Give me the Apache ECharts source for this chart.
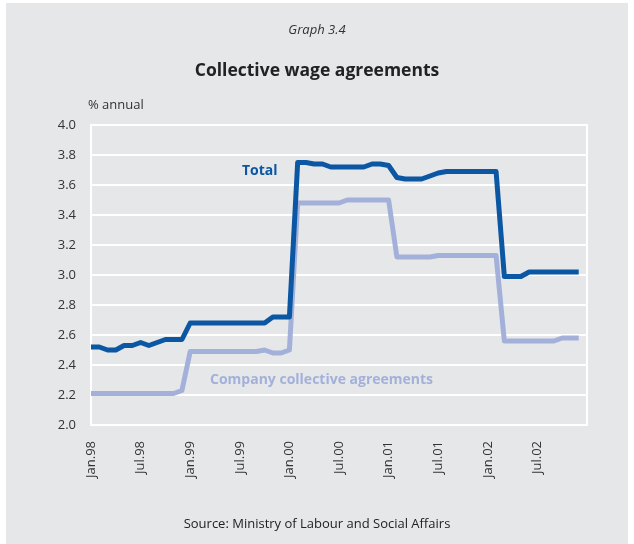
<!DOCTYPE html>
<html>
<head>
<meta charset="utf-8">
<script src="https://cdn.jsdelivr.net/npm/echarts@6/dist/echarts.min.js"></script>
<style>
  html, body { margin: 0; padding: 0; background: #ffffff; }
  #chart { width: 634px; height: 544px; }
</style>
</head>
<body>
<div id="chart"></div>
<script>
// Month labels, Jan.98 .. Jan.03 (axis end)
const monthNames = ['Jan', 'Feb', 'Mar', 'Apr', 'May', 'Jun', 'Jul', 'Aug', 'Sep', 'Oct', 'Nov', 'Dec'];
const years = ['98', '99', '00', '01', '02', '03'];
const categories = [];
years.forEach(function (y, yi) {
  monthNames.forEach(function (m, mi) {
    if (yi < years.length - 1 || mi === 0) categories.push(m + '.' + y);
  });
});

// Monthly series, % annual, Jan.98 .. Dec.02
const totalValues = [
  2.52, 2.52, 2.50, 2.50, 2.53, 2.53, 2.55, 2.53, 2.55, 2.57, 2.57, 2.57,
  2.68, 2.68, 2.68, 2.68, 2.68, 2.68, 2.68, 2.68, 2.68, 2.68, 2.72, 2.72,
  2.72, 3.75, 3.75, 3.74, 3.74, 3.72, 3.72, 3.72, 3.72, 3.72, 3.74, 3.74,
  3.73, 3.65, 3.64, 3.64, 3.64, 3.66, 3.68, 3.69, 3.69, 3.69, 3.69, 3.69,
  3.69, 3.69, 2.99, 2.99, 2.99, 3.02, 3.02, 3.02, 3.02, 3.02, 3.02, 3.02
];
const companyValues = [
  2.21, 2.21, 2.21, 2.21, 2.21, 2.21, 2.21, 2.21, 2.21, 2.21, 2.21, 2.23,
  2.49, 2.49, 2.49, 2.49, 2.49, 2.49, 2.49, 2.49, 2.49, 2.50, 2.48, 2.48,
  2.50, 3.48, 3.48, 3.48, 3.48, 3.48, 3.48, 3.50, 3.50, 3.50, 3.50, 3.50,
  3.50, 3.12, 3.12, 3.12, 3.12, 3.12, 3.13, 3.13, 3.13, 3.13, 3.13, 3.13,
  3.13, 3.13, 2.56, 2.56, 2.56, 2.56, 2.56, 2.56, 2.56, 2.58, 2.58, 2.58
];

const seriesNames = ['Total', 'Company collective agreements'];
const colorTotal = '#0b57a3';
const colorCompany = '#a3b1da';
const textFont = '"Open Sans", "Noto Sans", sans-serif';

const chart = echarts.init(document.getElementById('chart'), null, { renderer: 'canvas' });

chart.setOption({
  animation: false,
  backgroundColor: '#ffffff',
  graphic: [
    {
      type: 'rect', z: -10, silent: true,
      shape: { x: 6, y: 3, width: 622, height: 541 },
      style: { fill: '#e6e7e9' }
    },
    {
      type: 'text', left: 'center', top: 24,
      style: { text: 'Graph 3.4', font: 'italic 13px ' + textFont, fill: '#333333' }
    },
    {
      type: 'text', left: 'center', top: 62,
      style: { text: 'Collective wage agreements', font: 'bold 17.5px ' + textFont, fill: '#222222' }
    },
    {
      type: 'text', left: 88, top: 99,
      style: { text: '% annual', font: '13px ' + textFont, fill: '#333333' }
    },
    {
      type: 'text', left: 'center', top: 518,
      style: { text: 'Source: Ministry of Labour and Social Affairs', font: '13px ' + textFont, fill: '#222222' }
    },
    {
      type: 'text', left: 242, top: 164,
      style: { text: seriesNames[0], font: 'bold 14px ' + textFont, fill: colorTotal }
    },
    {
      type: 'text', left: 210, top: 373,
      style: { text: seriesNames[1], font: 'bold 14px ' + textFont, fill: colorCompany }
    }
  ],
  grid: {
    left: 91, top: 125, right: 47, bottom: 119,
    show: true, borderColor: '#ffffff', borderWidth: 2, backgroundColor: 'transparent'
  },
  xAxis: {
    type: 'category',
    data: categories,
    boundaryGap: false,
    axisLine: { show: false },
    axisTick: { show: false },
    splitLine: { show: false },
    axisLabel: {
      rotate: 90,
      margin: 16,
      color: '#333333',
      fontSize: 13,
      fontFamily: textFont,
      interval: function (idx) { return idx % 6 === 0 && idx < 60; }
    }
  },
  yAxis: {
    type: 'value',
    min: 2.0, max: 4.0, interval: 0.2,
    axisLine: { show: false },
    axisTick: { show: false },
    splitLine: { lineStyle: { color: '#ffffff', width: 2 } },
    axisLabel: {
      margin: 15,
      color: '#333333',
      fontSize: 13,
      fontFamily: textFont,
      formatter: function (v) { return v.toFixed(1); }
    }
  },
  series: [
    {
      name: seriesNames[1], type: 'line', data: companyValues,
      symbol: 'none', z: 2,
      lineStyle: { color: colorCompany, width: 5, join: 'round' }
    },
    {
      name: seriesNames[0], type: 'line', data: totalValues,
      symbol: 'none', z: 3,
      lineStyle: { color: colorTotal, width: 5, join: 'round' }
    }
  ]
});
</script>
</body>
</html>
